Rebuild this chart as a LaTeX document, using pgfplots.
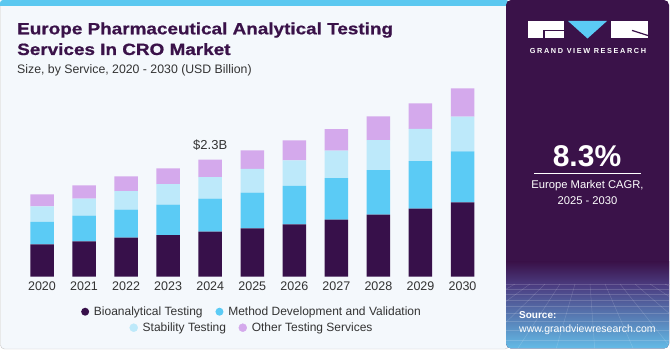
\documentclass[border=0pt]{standalone}
\usepackage{fontspec}
\setmainfont{Liberation Sans}
\newfontfamily\titlefont[FakeStretch=1.16,FakeBold=0.8]{Liberation Sans}
\usepackage{pgfplots}
\pgfplotsset{compat=1.18}
\definecolor{bio}{HTML}{37104A}
\definecolor{meth}{HTML}{5BCBF5}
\definecolor{stab}{HTML}{BDE9FA}
\definecolor{oth}{HTML}{D4A9EC}
\definecolor{panel}{HTML}{F4F8FC}
\definecolor{dark}{HTML}{3A1249}
\definecolor{txtgray}{HTML}{333333}
\definecolor{topblue}{HTML}{5BC8F0}
\definecolor{gridmid}{HTML}{4B3C80}
\definecolor{gridbot}{HTML}{64BEE9}
\begin{document}
\begin{tikzpicture}[x=1pt,y=1pt]
\useasboundingbox (0,0) rectangle (671,350);
\fill[white] (0,0) rectangle (671,350);
% left panel
\fill[panel, draw=black!22, rounded corners=4pt] (0.5,1) rectangle (509,349.5);
\fill[topblue, rounded corners=3pt] (0,344) rectangle (509,350);
\fill[topblue] (0,344) rectangle (509,347);
% right panel
\begin{scope}
\clip[rounded corners=5pt] (506,1.5) rectangle (669,350);
\fill[dark] (506,0) rectangle (671,350);
\shade[top color=dark, bottom color=gridmid] (506,65) rectangle (671,88);
\shade[top color=gridmid, bottom color=gridbot] (506,0) rectangle (671,65.2);
\begin{scope}[white, opacity=0.16, line width=0.5pt]
\foreach \yy in {66,61,56,50,44,37,29,20,10}{\draw (506,\yy) -- (671,\yy);}
\foreach \xx in {500,515,530,545,560,575,590,605,620,635,650,665,680}{\draw (\xx,66) -- ({587+(\xx-587)*2.6},0);}
\end{scope}
\end{scope}
% title
\node[anchor=base west, inner sep=0, text=dark] at (17,315.7) {\titlefont\bfseries\fontsize{16.3}{18}\selectfont Europe Pharmaceutical Analytical Testing};
\node[anchor=base west, inner sep=0, text=dark] at (17,295) {\titlefont\bfseries\fontsize{16.3}{18}\selectfont Services In CRO Market};
\node[anchor=base west, inner sep=0, text=txtgray] at (17,276) {\fontsize{12.3}{14}\selectfont Size, by Service, 2020 - 2030 (USD Billion)};
% logo
\fill[white] (528,312.3) rectangle (564,329);
\fill[dark] (544,318.6) rectangle (564,320);
\fill[dark] (543.3,312.3) rectangle (544.7,320);
\fill[meth] (568,329) -- (607,329) -- (587.5,311.5) -- cycle;
\fill[white] (611,312.3) rectangle (648,329);
\draw[dark, line width=1.2pt] (632,319.6) -- (648.5,314.3);
\node[anchor=base, inner sep=0, text=white] at (588,296.3) {\addfontfeatures{LetterSpace=22}\bfseries\fontsize{7.3}{8}\selectfont GRAND VIEW RESEARCH};
% CAGR
\node[anchor=base, inner sep=0, text=white] at (587,183.3) {\bfseries\fontsize{30}{32}\selectfont 8.3\%};
\draw[white, line width=0.9pt] (534,176.7) -- (641,176.7);
\node[anchor=base, inner sep=0, text=white] at (587.5,161) {\fontsize{11.2}{13}\selectfont Europe Market CAGR,};
\node[anchor=base, inner sep=0, text=white] at (587.5,145.7) {\fontsize{11.2}{13}\selectfont 2025 - 2030};
% source
\node[anchor=base west, inner sep=0, text=white] at (519,31) {\bfseries\fontsize{10}{12}\selectfont Source:};
\node[anchor=base west, inner sep=0, text=white] at (519,17.7) {\fontsize{10.5}{12}\selectfont www.grandviewresearch.com};
% chart
\begin{axis}[
  at={(8.36pt,73.3pt)}, anchor=south west,
  x=42.05pt, y=50.9pt, xmin=-0.8, xmax=10.8, ymin=0, ymax=4.2,
  scale only axis, clip=false,
  ybar stacked, bar width=23.5pt,
  axis lines*=left, axis line style={draw=none},
  ytick=\empty, xtick={0,1,2,3,4,5,6,7,8,9,10},
  xticklabels={2020,2021,2022,2023,2024,2025,2026,2027,2028,2029,2030},
  major tick length=0pt,
  xticklabel style={font=\fontsize{12.5}{14}\selectfont, text=txtgray, yshift=-1.4pt},
  legend columns=2,
  legend style={at={(axis cs:4.994,-0.688)}, anchor=center, draw=none, fill=none,
    font=\fontsize{12}{13}\selectfont, text=txtgray,
    /tikz/every odd column/.append style={column sep=2.8pt},
    /tikz/every even column/.append style={column sep=10.8pt}},
]
\addplot[fill=bio, draw=none, legend image code/.code={\fill[bio] (0pt,0pt) circle (4pt);}] coordinates {(0,0.637) (1,0.696) (2,0.766) (3,0.819) (4,0.884) (5,0.951) (6,1.03) (7,1.12) (8,1.218) (9,1.336) (10,1.462)};
\addlegendentry{Bioanalytical Testing}
\addplot[fill=meth, draw=none, legend image code/.code={\fill[meth] (0pt,0pt) circle (4pt);}] coordinates {(0,0.438) (1,0.503) (2,0.55) (3,0.595) (4,0.648) (5,0.70) (6,0.752) (7,0.819) (8,0.878) (9,0.937) (10,1.002)};
\addlegendentry{Method Development and Validation}
\addplot[fill=stab, draw=none] coordinates {(0,0.308) (1,0.334) (2,0.367) (3,0.407) (4,0.426) (5,0.466) (6,0.505) (7,0.536) (8,0.589) (9,0.629) (10,0.68)};
\addplot[fill=oth, draw=none] coordinates {(0,0.236) (1,0.263) (2,0.289) (3,0.308) (4,0.342) (5,0.367) (6,0.393) (7,0.426) (8,0.466) (9,0.505) (10,0.558)};
\node[anchor=base, inner sep=0, text=txtgray, font=\fontsize{13}{15}\selectfont] at (axis cs:4,2.3) [yshift=9.7pt] {\$2.3B};
\end{axis}
\begin{axis}[
  at={(8.36pt,73.3pt)}, anchor=south west,
  x=42.05pt, y=50.9pt, xmin=-0.8, xmax=10.8, ymin=0, ymax=4.2,
  scale only axis, clip=false, hide axis,
  legend columns=2,
  legend style={at={(axis cs:4.994,-1.002)}, anchor=center, draw=none, fill=none,
    font=\fontsize{12}{13}\selectfont, text=txtgray,
    /tikz/every odd column/.append style={column sep=2.8pt},
    /tikz/every even column/.append style={column sep=10.5pt}},
]
\addlegendimage{legend image code/.code={\fill[stab] (0pt,0pt) circle (4pt);}}
\addlegendentry{Stability Testing}
\addlegendimage{legend image code/.code={\fill[oth] (0pt,0pt) circle (4pt);}}
\addlegendentry{Other Testing Services}
\end{axis}
\end{tikzpicture}
\end{document}
